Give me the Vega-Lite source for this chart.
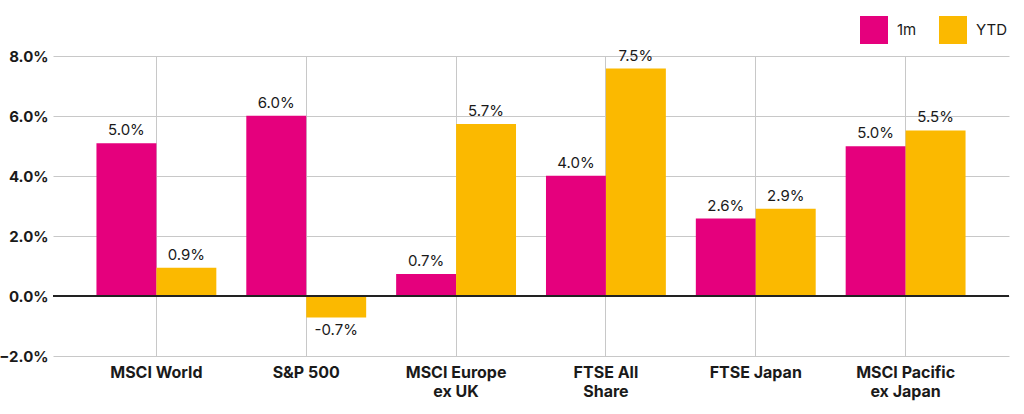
{
  "$schema": "https://vega.github.io/schema/vega-lite/v6.json",
  "width": 956,
  "height": 300,
  "autosize": "none",
  "padding": {"left": 53, "top": 56, "right": 15, "bottom": 58},
  "background": "white",
  "config": {
    "view": {"stroke": null},
    "font": "Inter",
    "text": {"font": "Inter"}
  },
  "data": {
    "values": [
      {"index": "MSCI World", "series": "1m", "value": 5.09, "label": "5.0%"},
      {"index": "MSCI World", "series": "YTD", "value": 0.94, "label": "0.9%"},
      {"index": "S&P 500", "series": "1m", "value": 6.01, "label": "6.0%"},
      {"index": "S&P 500", "series": "YTD", "value": -0.72, "label": "-0.7%"},
      {"index": "MSCI Europe|ex UK", "series": "1m", "value": 0.73, "label": "0.7%"},
      {"index": "MSCI Europe|ex UK", "series": "YTD", "value": 5.73, "label": "5.7%"},
      {"index": "FTSE All|Share", "series": "1m", "value": 4.01, "label": "4.0%"},
      {"index": "FTSE All|Share", "series": "YTD", "value": 7.58, "label": "7.5%"},
      {"index": "FTSE Japan", "series": "1m", "value": 2.58, "label": "2.6%"},
      {"index": "FTSE Japan", "series": "YTD", "value": 2.91, "label": "2.9%"},
      {"index": "MSCI Pacific|ex Japan", "series": "1m", "value": 4.99, "label": "5.0%"},
      {"index": "MSCI Pacific|ex Japan", "series": "YTD", "value": 5.52, "label": "5.5%"}
    ]
  },
  "layer": [
    {
      "mark": {"type": "bar"},
      "encoding": {
        "x": {
          "field": "index", "type": "nominal",
          "sort": ["MSCI World", "S&P 500", "MSCI Europe|ex UK", "FTSE All|Share", "FTSE Japan", "MSCI Pacific|ex Japan"],
          "scale": {"paddingInner": 0.2, "paddingOuter": 0.29},
          "axis": {
            "title": null, "domain": false, "ticks": false, "grid": true,
            "bandPosition": 0.5,
            "gridColor": "#c8c8c8", "gridWidth": 1,
            "labelAngle": 0,
            "labelFont": "Inter", "labelFontSize": 16, "labelFontWeight": "bold", "labelColor": "#1a1a1a",
            "labelExpr": "split(datum.label, '|')",
            "labelLineHeight": 19,
            "labelPadding": 8
          }
        },
        "xOffset": {"field": "series", "type": "nominal", "sort": ["1m", "YTD"], "scale": {"paddingInner": 0}},
        "y": {
          "field": "value", "type": "quantitative",
          "scale": {"domain": [-2, 8], "nice": false, "zero": false},
          "axis": {
            "title": null, "domain": false, "ticks": false, "grid": true,
            "gridColor": "#c8c8c8", "gridWidth": 1,
            "values": [-2, 0, 2, 4, 6, 8],
            "labelExpr": "format(datum.value, '.1f') + '%'",
            "labelFont": "Inter", "labelFontSize": 15, "labelFontWeight": "bold", "labelColor": "#1a1a1a",
            "labelPadding": 5
          }
        },
        "color": {
          "field": "series", "type": "nominal",
          "sort": ["1m", "YTD"],
          "scale": {"domain": ["1m", "YTD"], "range": ["#E5007D", "#FBB900"]},
          "legend": {
            "title": null, "orient": "none", "legendX": 807, "legendY": -40,
            "direction": "horizontal", "symbolType": "square", "symbolSize": 784,
            "symbolStrokeWidth": 0, "symbolOpacity": 1,
            "labelFont": "Inter", "labelFontSize": 15, "labelColor": "#1a1a1a",
            "labelOffset": 9, "columnPadding": 22, "padding": 0
          }
        }
      }
    },
    {
      "transform": [{"filter": "datum.value >= 0"}],
      "mark": {"type": "text", "baseline": "bottom", "dy": -5, "fontSize": 15, "color": "#1a1a1a"},
      "encoding": {
        "x": {"field": "index", "type": "nominal", "sort": ["MSCI World", "S&P 500", "MSCI Europe|ex UK", "FTSE All|Share", "FTSE Japan", "MSCI Pacific|ex Japan"]},
        "xOffset": {"field": "series", "type": "nominal", "sort": ["1m", "YTD"]},
        "y": {"field": "value", "type": "quantitative"},
        "text": {"field": "label", "type": "nominal"}
      }
    },
    {
      "transform": [{"filter": "datum.value < 0"}],
      "mark": {"type": "text", "baseline": "top", "dy": 5, "fontSize": 15, "color": "#1a1a1a"},
      "encoding": {
        "x": {"field": "index", "type": "nominal", "sort": ["MSCI World", "S&P 500", "MSCI Europe|ex UK", "FTSE All|Share", "FTSE Japan", "MSCI Pacific|ex Japan"]},
        "xOffset": {"field": "series", "type": "nominal", "sort": ["1m", "YTD"]},
        "y": {"field": "value", "type": "quantitative"},
        "text": {"field": "label", "type": "nominal"}
      }
    },
    {
      "mark": {"type": "rule", "color": "#222222", "strokeWidth": 2},
      "encoding": {"y": {"datum": 0}}
    }
  ]
}
